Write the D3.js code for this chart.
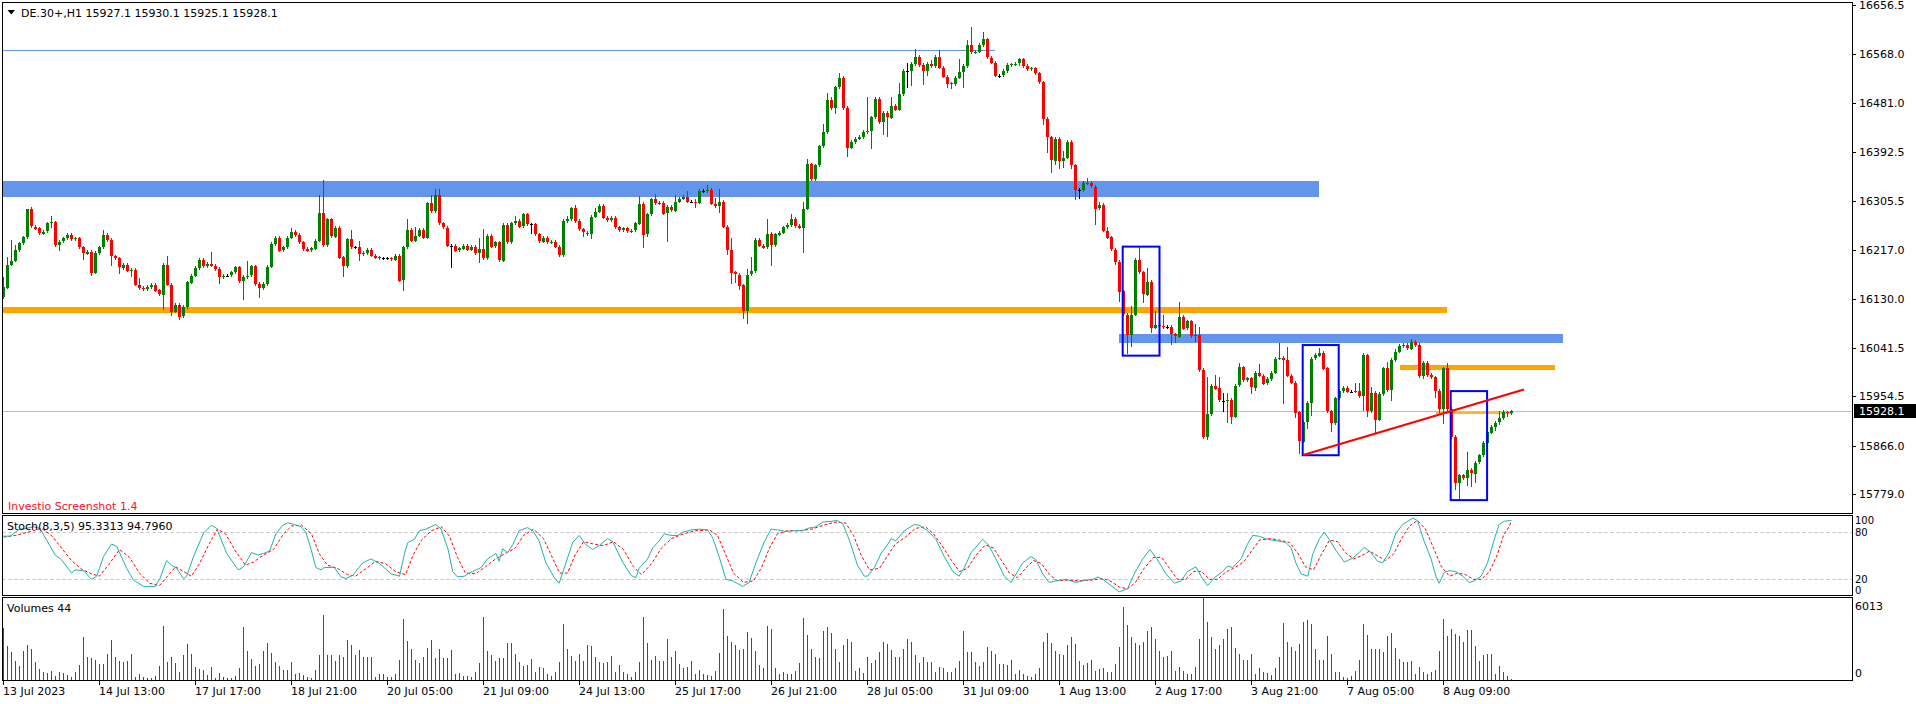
<!DOCTYPE html>
<html>
<head>
<meta charset="utf-8">
<script src="https://cdn.jsdelivr.net/npm/d3@7"></script>
<style>
  body { margin: 0; background: #fff; }
  svg text { font-family: "DejaVu Sans", sans-serif; font-size: 11px; }
  svg text.stick { font-size: 10px; }
</style>
</head>
<body>
<svg id="chart" width="1916" height="704"></svg>
<script>
// DE.30+ H1, 13 Jul - 8 Aug 2023 (MT4 screenshot)

// closes, one per hourly bar; open of a bar = previous close
var firstOpen = 16132;
var closes = [
  16150, 16191, 16198, 16217, 16229, 16240, 16290, 16259, 16256, 16247,
  16250, 16265, 16267, 16226, 16232, 16238, 16244, 16236, 16238, 16222,
  16211, 16214, 16177, 16212, 16222, 16244, 16235, 16206, 16202, 16185,
  16191, 16180, 16182, 16155, 16149, 16147, 16151, 16155, 16145, 16137,
  16191, 16155, 16107, 16119, 16098, 16115, 16159, 16171, 16185, 16199,
  16188, 16192, 16189, 16183, 16169, 16171, 16171, 16177, 16186, 16161,
  16169, 16171, 16188, 16156, 16148, 16156, 16187, 16228, 16239, 16216,
  16222, 16239, 16250, 16244, 16231, 16219, 16216, 16220, 16234, 16284,
  16226, 16272, 16241, 16257, 16204, 16187, 16236, 16222, 16222, 16210,
  16212, 16218, 16207, 16204, 16202, 16202, 16202, 16200, 16207, 16162,
  16222, 16253, 16234, 16243, 16253, 16239, 16301, 16287, 16315, 16265,
  16257, 16225, 16225, 16216, 16220, 16225, 16218, 16223, 16212, 16219,
  16202, 16242, 16223, 16231, 16198, 16262, 16231, 16265, 16269, 16259,
  16281, 16263, 16263, 16245, 16232, 16239, 16231, 16232, 16223, 16208,
  16269, 16273, 16292, 16269, 16254, 16248, 16246, 16277, 16286, 16296,
  16275, 16271, 16275, 16258, 16252, 16256, 16250, 16252, 16265, 16300,
  16245, 16281, 16308, 16300, 16302, 16283, 16294, 16288, 16304, 16309,
  16313, 16304, 16304, 16302, 16323, 16323, 16325, 16300, 16296, 16304,
  16259, 16218, 16177, 16173, 16154, 16108, 16173, 16179, 16235, 16225,
  16222, 16246, 16226, 16245, 16248, 16258, 16262, 16273, 16260, 16257,
  16291, 16371, 16344, 16369, 16403, 16429, 16486, 16472, 16509, 16526,
  16472, 16401, 16411, 16417, 16420, 16429, 16430, 16455, 16488, 16447,
  16463, 16455, 16476, 16469, 16497, 16539, 16539, 16551, 16564, 16549,
  16538, 16551, 16547, 16564, 16544, 16528, 16515, 16516, 16526, 16536,
  16547, 16584, 16572, 16573, 16585, 16595, 16562, 16553, 16530, 16530,
  16538, 16549, 16550, 16551, 16559, 16547, 16541, 16543, 16534, 16518,
  16452, 16419, 16377, 16417, 16377, 16383, 16411, 16369, 16325, 16325,
  16338, 16337, 16331, 16292, 16298, 16252, 16240, 16218, 16196, 16143,
  16101, 16066, 16101, 16199, 16177, 16137, 16160, 16078, 16083, 16081,
  16079, 16079, 16066, 16062, 16097, 16076, 16089, 16062, 16064, 16002,
  15882, 15923, 15974, 15969, 15947, 15947, 15949, 15918, 15974, 16007,
  15984, 15987, 15970, 15997, 15992, 15978, 15986, 15997, 16022, 16024,
  16020, 15992, 15979, 15926, 15874, 15909, 15943, 16022, 16028, 16033,
  16005, 15928, 15907, 15951, 15964, 15970, 15963, 15963, 15964, 15955,
  16028, 15928, 15961, 15913, 15959, 16005, 15966, 16020, 16035, 16045,
  16047, 16041, 16053, 16047, 15991, 16015, 15993, 15989, 15964, 15932,
  16005, 15932, 15882, 15799, 15813, 15808, 15823, 15817, 15836, 15849,
  15871, 15890, 15900, 15907, 15915, 15926, 15924, 15928.1
];

// upper shadow above the body, in points
var wickUp = [
  18, 14, 37, 9, 3, 3, 1, 5, 3, 3,
  3, 3, 11, 3, 3, 3, 3, 3, 3, 3,
  3, 3, 3, 3, 3, 9, 3, 3, 3, 3,
  3, 3, 3, 3, 12, 3, 3, 3, 3, 3,
  3, 15, 3, 3, 3, 3, 3, 3, 3, 3,
  3, 3, 22, 3, 3, 3, 3, 3, 3, 3,
  3, 27, 3, 3, 3, 3, 3, 3, 3, 3,
  3, 3, 7, 3, 3, 3, 3, 3, 3, 31,
  59, 3, 3, 3, 3, 3, 3, 17, 3, 11,
  3, 3, 3, 3, 3, 3, 3, 3, 3, 3,
  3, 20, 3, 16, 3, 3, 3, 14, 11, 11,
  3, 3, 3, 3, 3, 3, 3, 3, 3, 20,
  35, 3, 3, 3, 3, 3, 3, 3, 9, 3,
  3, 3, 3, 3, 3, 3, 3, 3, 3, 3,
  3, 5, 3, 6, 3, 3, 3, 3, 6, 3,
  3, 3, 3, 3, 3, 3, 3, 3, 3, 14,
  3, 3, 3, 9, 3, 3, 3, 3, 11, 3,
  3, 10, 3, 4, 3, 3, 9, 3, 11, 23,
  3, 3, 21, 3, 3, 3, 10, 25, 3, 3,
  3, 27, 3, 3, 3, 3, 3, 8, 3, 3,
  13, 9, 3, 3, 3, 15, 12, 6, 3, 8,
  3, 3, 3, 3, 3, 3, 61, 3, 3, 3,
  3, 3, 16, 3, 19, 3, 14, 3, 13, 3,
  3, 3, 6, 3, 12, 3, 3, 2, 3, 23,
  3, 9, 33, 3, 3, 13, 3, 3, 3, 3,
  3, 3, 3, 3, 3, 3, 3, 3, 3, 3,
  3, 3, 3, 3, 3, 11, 3, 3, 3, 3,
  3, 8, 3, 3, 6, 3, 6, 3, 3, 3,
  3, 3, 16, 3, 23, 3, 25, 3, 25, 3,
  20, 3, 3, 3, 27, 3, 3, 3, 20, 15,
  3, 66, 3, 19, 20, 14, 12, 3, 3, 8,
  3, 3, 3, 3, 15, 3, 3, 3, 3, 27,
  3, 23, 3, 3, 3, 3, 3, 3, 5, 8,
  3, 3, 3, 3, 3, 3, 3, 3, 14, 14,
  4, 3, 11, 3, 3, 3, 11, 3, 4, 3,
  3, 3, 5, 3, 3, 3, 3, 3, 3, 3,
  3, 10, 3, 3, 3, 3, 31, 3, 3, 3,
  3, 3, 3, 3, 13, 4, 3, 2
];

// lower shadow below the body, in points
var wickDown = [
  3, 3, 3, 3, 3, 3, 3, 3, 3, 3,
  3, 3, 9, 3, 10, 3, 3, 3, 3, 3,
  11, 3, 6, 3, 3, 3, 3, 18, 3, 10,
  3, 3, 11, 3, 3, 3, 3, 3, 3, 3,
  27, 3, 9, 3, 6, 3, 3, 3, 3, 3,
  3, 3, 3, 3, 12, 3, 3, 3, 3, 3,
  34, 3, 3, 3, 17, 3, 3, 3, 3, 3,
  3, 3, 3, 3, 3, 3, 3, 3, 3, 3,
  3, 3, 3, 3, 3, 18, 3, 3, 3, 13,
  3, 3, 3, 3, 3, 3, 3, 3, 3, 3,
  19, 3, 3, 3, 3, 3, 3, 3, 3, 3,
  3, 3, 40, 3, 3, 3, 3, 3, 3, 19,
  3, 3, 3, 3, 3, 3, 3, 3, 3, 3,
  3, 3, 17, 3, 3, 3, 3, 3, 3, 3,
  3, 3, 3, 3, 3, 8, 3, 9, 3, 3,
  3, 3, 3, 3, 3, 3, 3, 3, 3, 3,
  24, 5, 3, 3, 3, 3, 52, 3, 3, 3,
  3, 3, 3, 10, 3, 3, 3, 3, 3, 13,
  3, 10, 21, 15, 9, 15, 23, 3, 3, 3,
  3, 3, 37, 3, 3, 3, 3, 3, 3, 3,
  45, 3, 3, 3, 3, 3, 3, 3, 11, 3,
  3, 17, 3, 3, 3, 3, 3, 32, 3, 3,
  23, 36, 3, 3, 3, 3, 32, 28, 3, 3,
  25, 8, 3, 3, 3, 3, 8, 10, 5, 3,
  28, 3, 3, 3, 3, 3, 3, 3, 3, 4,
  3, 3, 3, 3, 3, 3, 3, 3, 3, 3,
  10, 27, 22, 8, 14, 12, 3, 6, 19, 17,
  3, 3, 3, 30, 3, 3, 3, 3, 5, 19,
  3, 36, 23, 3, 3, 15, 3, 10, 3, 3,
  3, 3, 19, 11, 3, 3, 3, 3, 9, 3,
  3, 5, 3, 3, 3, 21, 40, 13, 3, 3,
  3, 3, 11, 6, 3, 3, 3, 3, 3, 3,
  79, 3, 3, 11, 23, 3, 12, 23, 3, 3,
  3, 4, 17, 3, 3, 3, 3, 3, 3, 3,
  27, 10, 3, 26, 3, 3, 3, 19, 3, 3,
  3, 3, 3, 3, 3, 6, 3, 3, 13, 8,
  27, 3, 3, 13, 28, 3, 14, 25, 17, 3,
  3, 3, 3, 8, 3, 3, 6, 2
];

// tick volumes
var volumes = [
  3785, 2465, 2040, 1420, 1045, 2090, 2540, 2240, 1345, 800,
  620, 500, 670, 300, 620, 500, 350, 250, 620, 1095,
  3160, 1670, 1620, 1495, 1170, 1170, 1920, 2910, 1670, 1420,
  1345, 1420, 1920, 250, 420, 250, 175, 175, 300, 1045,
  3985, 1345, 1670, 1220, 620, 1840, 2615, 1920, 920, 800,
  720, 350, 920, 175, 500, 250, 175, 125, 300, 845,
  3860, 2090, 1545, 995, 1150, 2100, 2680, 1970, 1340, 1040,
  760, 710, 1290, 405, 530, 330, 200, 150, 710, 1800,
  4760, 1850, 1800, 1390, 1800, 1720, 2935, 2555, 1850, 2175,
  1720, 1670, 1670, 250, 455, 455, 200, 200, 455, 1470,
  4450, 2860, 2300, 1470, 1215, 1720, 2350, 2935, 1595, 2300,
  1595, 1595, 2175, 405, 530, 280, 313, 220, 563, 1250,
  4600, 2130, 1815, 1410, 1630, 1630, 2720, 2720, 1880, 1315,
  1030, 1095, 1565, 563, 940, 845, 470, 313, 563, 1345,
  4070, 2285, 1785, 1410, 1880, 1410, 2570, 2500, 1660, 1345,
  1250, 1315, 1785, 563, 1095, 563, 470, 250, 563, 1345,
  4600, 2720, 1500, 1785, 1410, 1410, 2975, 1720, 2100, 1160,
  845, 940, 1410, 405, 720, 470, 375, 313, 625, 1970,
  5230, 3225, 2755, 2600, 2190, 2285, 3540, 3070, 2130, 1095,
  845, 3975, 3755, 845, 405, 563, 405, 470, 625, 1250,
  4540, 3285, 2285, 1720, 1630, 3600, 3850, 3445, 2255, 1315,
  2600, 2975, 2815, 625, 845, 530, 1660, 1250, 1470, 2035,
  2815, 2660, 2190, 1720, 1660, 2285, 3035, 2755, 1815, 1250,
  1720, 1345, 1345, 563, 940, 845, 563, 563, 875, 1410,
  3600, 2035, 2035, 1345, 1030, 1345, 2440, 2100, 1880, 1190,
  1190, 1095, 1470, 470, 720, 470, 313, 250, 405, 875,
  2815, 3445, 2720, 2130, 1940, 1815, 2600, 3130, 2660, 1410,
  1095, 1250, 1470, 625, 780, 845, 563, 563, 1190, 2440,
  5320, 4000, 3130, 2720, 2600, 2755, 3600, 3850, 3035, 2100,
  1720, 1785, 2100, 625, 940, 625, 405, 405, 940, 2975,
  6013, 4225, 3130, 2255, 2570, 2975, 3755, 3915, 2350, 1940,
  1500, 1500, 1940, 470, 875, 563, 530, 375, 845, 1660,
  4160, 2755, 2410, 2130, 2660, 4225, 4380, 4070, 2285, 1470,
  1470, 3225, 1880, 563, 563, 250, 157, 313, 625, 1500,
  4070, 3285, 2285, 2285, 2285, 2035, 3190, 3445, 2350, 1565,
  1345, 1345, 1410, 405, 940, 563, 470, 563, 720, 2130,
  4475, 3190, 3755, 3380, 3190, 2755, 3660, 3660, 2505, 1410,
  1815, 1880, 1940, 470, 1000, 563, 313, 44
];

// Stoch(8,3,5): main line (%K) at bar positions
var stochKBars = [
  0, 1.7, 3.7, 7.5, 9.1, 10.8, 12.9, 14.5, 17, 17.9, 20, 22, 23.3, 25, 27, 28.3, 30.8, 32.5, 35, 37.9,
  39.1, 40.8, 42, 43.3, 45, 45.8, 47.5, 50, 52, 53.3, 55.8, 58.7, 60, 62, 63.7, 65, 66.5, 68.1, 69.8, 71.1,
  72.7, 74.4, 75.6, 76.9, 78.1, 79.4, 80.2, 82.7, 84.4, 85.6, 87.3, 89.8, 91.9, 94, 95.6, 96.9, 99, 100.3, 101.1, 102.7,
  104, 105.6, 108.1, 109.4, 111.1, 112.3, 113.5, 115.2, 116.1, 117.3, 119.4, 121, 123.1, 123.9, 124.8, 126, 127.3, 128.9, 131, 132.3,
  133.9, 135.6, 137.7, 138.9, 140.6, 142.3, 143.9, 145.6, 147.3, 148.9, 151, 152.3, 154.8, 156.9, 158.1, 158.9, 161, 162.3, 163.9, 165.2,
  166.9, 168.6, 169.8, 171.9, 173.9, 176, 177.3, 178.9, 180.6, 182.3, 184.8, 186.4, 188.1, 190.2, 191.9, 193.5, 195.6, 197.7, 199.8, 201,
  203.1, 204.8, 206.9, 208.5, 209.8, 211.4, 213.5, 215.2, 216, 217.7, 219.4, 221.1, 221.9, 223.1, 225.2, 227.7, 228.9, 231, 233.1, 235.2,
  237.3, 238.9, 240.2, 241.9, 244.8, 246.4, 248.1, 250.2, 251.9, 253.5, 254.8, 256.9, 258.1, 259.8, 261.4, 263.1, 265.6, 268.1, 270.6, 272.3,
  273.6, 274.8, 276.9, 278.9, 281, 282.7, 284.8, 286.6, 288.5, 290.6, 292.7, 294.4, 296, 298.1, 299.4, 301, 302.7, 304.8, 306, 307.3,
  309.4, 311, 312.3, 313.9, 316, 318.5, 320.6, 321.9, 323.1, 324.4, 326.1, 327.3, 328.9, 330.2, 331.4, 333.1, 335.2, 337.3, 338.9, 340.2,
  341.9, 343.5, 344.8, 346.4, 348.1, 349.8, 351, 352.3, 353.5, 355.2, 356.9, 358.1, 358.9, 360.2, 361.4, 363.1, 364.8, 366.4, 367.7, 369.4,
  371, 372.7, 373.9, 375.2, 376.6, 377
];
var stochK = [
  75, 75, 83, 87, 85, 70, 51, 45, 28, 32, 31, 20, 24, 49, 65, 62, 34, 19, 11, 11,
  21, 44, 38, 34, 21, 24, 49, 79, 89, 85, 53, 32, 36, 54, 51, 53, 56, 78, 89, 92,
  90, 87, 80, 58, 35, 32, 35, 35, 23, 21, 25, 41, 46, 40, 33, 27, 24, 54, 67, 71,
  82, 84, 90, 84, 59, 30, 23, 24, 27, 30, 35, 46, 53, 43, 59, 54, 64, 82, 86, 82,
  69, 41, 22, 15, 41, 67, 76, 64, 58, 63, 72, 68, 42, 25, 22, 34, 46, 60, 69, 78,
  76, 76, 80, 83, 84, 83, 73, 49, 20, 18, 11, 16, 41, 68, 84, 83, 81, 82, 82, 85,
  87, 93, 94, 95, 91, 71, 38, 24, 24, 35, 53, 65, 72, 69, 82, 90, 89, 82, 71, 49,
  30, 24, 35, 54, 71, 63, 46, 24, 16, 30, 41, 49, 45, 27, 16, 18, 20, 16, 19, 20,
  23, 20, 12, 4, 8, 27, 46, 58, 45, 27, 15, 18, 30, 36, 24, 12, 22, 30, 37, 35,
  46, 65, 76, 75, 71, 69, 67, 60, 41, 27, 24, 52, 71, 80, 71, 57, 42, 47, 54, 61,
  54, 43, 41, 54, 79, 90, 94, 98, 95, 68, 46, 24, 15, 29, 31, 30, 24, 16, 18, 24,
  41, 71, 90, 94, 95, 95.3
];
// signal line (%D), dashed red
var stochDBars = [
  0, 3, 6, 9.5, 12, 14.5, 17, 19.5, 22, 24, 26.5, 29, 31.5, 34, 36.5, 39, 41, 43, 45, 47,
  49, 51.5, 53.5, 55.5, 58, 60.5, 62.5, 65, 67.5, 70, 72, 74.5, 77, 79, 81, 83.5, 86, 88, 90.5, 93,
  95.5, 98, 100.5, 102.5, 104.5, 107, 109.5, 111.5, 113.5, 115.5, 118, 120.5, 123, 125.5, 128, 130, 132.5, 135, 137, 139,
  141, 143, 145, 147.5, 150, 152.5, 155, 157.5, 159.5, 162, 164.5, 167, 170, 173, 176.5, 178.5, 180.5, 182.5, 185, 187.5,
  189.5, 191.5, 193.5, 196, 199, 202, 205, 208, 210.5, 212.5, 214.5, 216.5, 219, 221, 223, 225.5, 228, 230.5, 232.5, 234.5,
  237, 239, 241, 243, 245.5, 247.5, 249.5, 251.5, 253.5, 255.5, 257.5, 259.5, 261.5, 263.5, 266, 269, 272, 275, 277, 279,
  281, 283, 285, 287.5, 289.5, 291.5, 293.5, 295.5, 297.5, 299.5, 301.5, 303.5, 305.5, 307.5, 310, 312, 314, 316.5, 319, 321.5,
  323.5, 325.5, 327.5, 329.5, 331.5, 333.5, 335.5, 337.5, 339.5, 341.5, 343.5, 345.5, 347.5, 349.5, 351.5, 353.5, 355.5, 357.5, 359.5, 361.5,
  363.5, 365.5, 367.5, 369.5, 371.5, 373.5, 375, 376.5, 377
];
var stochD = [
  74, 76, 80, 85, 76, 60, 44, 33, 27, 24, 40, 58, 48, 28, 15, 12, 24, 36, 30, 24,
  40, 66, 84, 78, 56, 38, 42, 51, 58, 78, 88, 89, 78, 52, 38, 34, 26, 24, 33, 43,
  40, 30, 26, 52, 70, 82, 87, 75, 48, 28, 27, 36, 46, 53, 60, 76, 84, 72, 50, 28,
  28, 52, 68, 65, 63, 68, 58, 36, 26, 40, 60, 72, 78, 82, 83, 76, 52, 28, 16, 18,
  35, 60, 78, 82, 82, 84, 89, 93, 92, 76, 50, 32, 34, 50, 65, 74, 85, 87, 78, 64,
  44, 30, 34, 50, 64, 60, 44, 28, 22, 34, 44, 40, 26, 18, 19, 18, 19, 21, 17, 10,
  8, 16, 33, 48, 48, 34, 20, 20, 30, 30, 20, 20, 29, 34, 42, 56, 70, 72, 70, 67,
  54, 36, 32, 52, 70, 68, 54, 46, 50, 56, 50, 44, 52, 72, 88, 95, 84, 60, 36, 24,
  28, 26, 20, 20, 30, 52, 76, 88, 94.8
];

var priceTicks = [16656.5, 16568.0, 16481.0, 16392.5, 16305.5, 16217.0, 16130.0, 16041.5, 15954.5, 15866.0, 15779.0];
var timeLabels = ["13 Jul 2023", "14 Jul 13:00", "17 Jul 17:00", "18 Jul 21:00", "20 Jul 05:00", "21 Jul 09:00",
  "24 Jul 13:00", "25 Jul 17:00", "26 Jul 21:00", "28 Jul 05:00", "31 Jul 09:00", "1 Aug 13:00",
  "2 Aug 17:00", "3 Aug 21:00", "7 Aug 05:00", "8 Aug 09:00"];
var timeLabelBars = [0, 24, 48, 72, 96, 120, 144, 168, 192, 216, 240, 264, 288, 312, 336, 360];
var stochLevels = [20, 80];
var stochTicks = [100, 80, 20, 0];
var volumeTicks = [6013, 0];
var bidPrice = 15928.1;
var headerText = "DE.30+,H1  15927.1 15930.1 15925.1 15928.1";
var stochText = "Stoch(8,3,5) 95.3313 94.7960";
var volumeText = "Volumes 44";

// drawn objects: horizontal bands [fromBar, toBar, priceLow, priceHigh, colour]
var bands = [
  [-1, 247.9, 16574.9, 16576.7, "#6495ED"],
  [-1, 328.9, 16313, 16340, "#6495ED"],
  [-1, 360.9, 16104.1, 16114.9, "#FFA500"],
  [278.8, 389.8, 16050.9, 16066.5, "#6495ED"],
  [349, 387.9, 16002.4, 16011.6, "#FFA500"],
  [358, 376.9, 15923.9, 15927.3, "#FFB733"]
];
// rectangles [fromBar, toBar, priceLow, priceHigh]
var boxes = [
  [279.8, 289.0, 16027.7, 16223.2],
  [324.8, 333.8, 15849.1, 16046.7],
  [361.8, 370.9, 15768.6, 15964.1]
];
// trend line [bar, price] pairs
var trend = [[324.9, 15849.5], [380.1, 15966.9]];

var left = 2.5, right = 1852.5;
var mainTop = 2.5, mainBottom = 513.5;
var stochTop = 515.5, stochBottom = 595.5;
var volTop = 597.5, volBottom = 680.5;

var green = "#008000", red = "#FF0000";

var svg = d3.select("#chart");

var x = d3.scaleLinear().domain([0, 377]).range([3.5, 1511.5]);
var y = d3.scaleLinear().domain([15745.5, 16661.9]).range([513, 2]);
var ys = d3.scaleLinear().domain([0, 100]).range([595, 516.6]);
var yv = d3.scaleLinear().domain([0, 6013]).range([680, 598]);

var bars = closes.map(function(c, i) {
  var o = i === 0 ? firstOpen : closes[i - 1];
  return {
    i: i, o: o, c: c,
    h: Math.max(o, c) + wickUp[i],
    l: Math.min(o, c) - wickDown[i],
    v: volumes[i]
  };
});

function barColor(d) {
  if (Math.abs(d.c - d.o) < 0.5) return "#000";
  return d.c > d.o ? green : red;
}

var defs = svg.append("defs");
function clip(id, y0, y1) {
  defs.append("clipPath").attr("id", id)
    .append("rect").attr("x", left).attr("y", y0).attr("width", right - left).attr("height", y1 - y0);
}
clip("clipMain", mainTop, mainBottom);
clip("clipStoch", stochTop, stochBottom);
clip("clipVol", volTop, volBottom);

// ---- main window
var main = svg.append("g").attr("clip-path", "url(#clipMain)");

main.append("line")
  .attr("x1", left).attr("x2", right)
  .attr("y1", Math.round(y(bidPrice)) + 0.5).attr("y2", Math.round(y(bidPrice)) + 0.5)
  .attr("stroke", "#C0C0C0");

main.selectAll("rect.band").data(bands).enter().append("rect")
  .attr("class", "band")
  .attr("x", function(d) { return d[0] < 0 ? left : x(d[0]); })
  .attr("width", function(d) { return x(d[1]) - (d[0] < 0 ? left : x(d[0])); })
  .attr("y", function(d) { return y(d[3]); })
  .attr("height", function(d) { return y(d[2]) - y(d[3]); })
  .attr("fill", function(d) { return d[4]; })
  .attr("shape-rendering", "crispEdges");

var candle = main.selectAll("g.candle").data(bars).enter().append("g")
  .attr("class", "candle")
  .attr("shape-rendering", "crispEdges");

candle.append("line")
  .attr("x1", function(d) { return Math.floor(x(d.i)) + 0.5; })
  .attr("x2", function(d) { return Math.floor(x(d.i)) + 0.5; })
  .attr("y1", function(d) { return y(d.h); })
  .attr("y2", function(d) { return y(d.l); })
  .attr("stroke", barColor);

candle.append("rect")
  .attr("x", function(d) { return Math.floor(x(d.i)) - 1; })
  .attr("width", 3)
  .attr("y", function(d) { return Math.round(y(Math.max(d.o, d.c))); })
  .attr("height", function(d) { return Math.max(1, Math.round(y(Math.min(d.o, d.c)) - y(Math.max(d.o, d.c)))); })
  .attr("fill", barColor);

main.selectAll("rect.box").data(boxes).enter().append("rect")
  .attr("class", "box")
  .attr("x", function(d) { return x(d[0]); })
  .attr("width", function(d) { return x(d[1]) - x(d[0]); })
  .attr("y", function(d) { return y(d[3]); })
  .attr("height", function(d) { return y(d[2]) - y(d[3]); })
  .attr("fill", "none")
  .attr("stroke", "#0000FF")
  .attr("stroke-width", 2);

main.append("path")
  .datum(trend)
  .attr("d", d3.line().x(function(d) { return x(d[0]); }).y(function(d) { return y(d[1]); }))
  .attr("stroke", red)
  .attr("stroke-width", 2)
  .attr("fill", "none");

// header
svg.append("path").attr("d", "M7.5,10 L15,10 L11.25,14.5 Z").attr("fill", "#000");
svg.append("text").attr("x", 21).attr("y", 17).attr("fill", "#000").text(headerText);
svg.append("text").attr("x", 8).attr("y", 510).attr("fill", "#FF0D2D").text("Investio Screenshot 1.4");

// ---- stochastic window
var stoch = svg.append("g").attr("clip-path", "url(#clipStoch)");
stoch.selectAll("line.level").data(stochLevels).enter().append("line")
  .attr("x1", left).attr("x2", right)
  .attr("y1", function(d) { return Math.round(ys(d)) + 0.5; })
  .attr("y2", function(d) { return Math.round(ys(d)) + 0.5; })
  .attr("stroke", "#C0C0C0")
  .attr("stroke-dasharray", "3,3");

var sline = d3.line()
  .x(function(d) { return x(d[0]); })
  .y(function(d) { return ys(d[1]); });

stoch.append("path").datum(d3.zip(stochDBars, stochD)).attr("d", sline)
  .attr("fill", "none").attr("stroke", red).attr("stroke-width", 1).attr("stroke-dasharray", "3,2");
stoch.append("path").datum(d3.zip(stochKBars, stochK)).attr("d", sline)
  .attr("fill", "none").attr("stroke", "#20B2AA").attr("stroke-width", 1);

svg.append("text").attr("x", 7).attr("y", 530).attr("fill", "#000").text(stochText);

// ---- volumes
var vol = svg.append("g").attr("clip-path", "url(#clipVol)").attr("shape-rendering", "crispEdges");
vol.selectAll("line").data(bars).enter().append("line")
  .attr("x1", function(d) { return Math.floor(x(d.i)) + 0.5; })
  .attr("x2", function(d) { return Math.floor(x(d.i)) + 0.5; })
  .attr("y1", yv(0))
  .attr("y2", function(d) { return yv(d.v); })
  .attr("stroke", function(d, i) { return i === 0 || d.v > volumes[i - 1] ? green : red; });

svg.append("text").attr("x", 7).attr("y", 612).attr("fill", "#000").text(volumeText);

// ---- frames
[[mainTop, mainBottom], [stochTop, stochBottom], [volTop, volBottom]].forEach(function(p) {
  svg.append("rect")
    .attr("x", left).attr("y", p[0])
    .attr("width", right - left).attr("height", p[1] - p[0])
    .attr("fill", "none").attr("stroke", "#000")
    .attr("shape-rendering", "crispEdges");
});

// ---- price axis
var pt = svg.append("g").attr("shape-rendering", "crispEdges");
pt.selectAll("line").data(priceTicks).enter().append("line")
  .attr("x1", right).attr("x2", right + 3)
  .attr("y1", function(d) { return Math.round(y(d)) + 0.5; })
  .attr("y2", function(d) { return Math.round(y(d)) + 0.5; })
  .attr("stroke", "#000");
svg.selectAll("text.ptick").data(priceTicks).enter().append("text")
  .attr("class", "ptick")
  .attr("x", 1859)
  .attr("y", function(d) { return y(d) + 4; })
  .attr("fill", "#000")
  .text(function(d) { return d.toFixed(1); });

svg.append("rect")
  .attr("x", 1854).attr("y", Math.round(y(bidPrice)) - 7)
  .attr("width", 62).attr("height", 14)
  .attr("fill", "#000");
svg.append("text")
  .attr("x", 1859).attr("y", y(bidPrice) + 4)
  .attr("fill", "#fff")
  .text(bidPrice.toFixed(1));

// sub-window scales: labels kept inside their window; 100 and 0 pushed to the
// window edges so they sit just clear of the 80 / 20 labels
function clampLabel(v, top, bottom, pad) { return Math.max(top + pad, Math.min(bottom - pad, v)); }
svg.selectAll("text.stick").data(stochTicks).enter().append("text")
  .attr("class", "stick")
  .attr("x", 1855)
  .attr("y", function(d) { return clampLabel(ys(d), stochTop, stochBottom, 5) + 3.5; })
  .attr("fill", "#000")
  .text(function(d) { return d; });
svg.selectAll("text.vtick").data(volumeTicks).enter().append("text")
  .attr("class", "vtick")
  .attr("x", 1855)
  .attr("y", function(d) { return clampLabel(yv(d), volTop, volBottom, 8) + 4; })
  .attr("fill", "#000")
  .text(function(d) { return d; });

// ---- time axis
var tt = svg.append("g").attr("shape-rendering", "crispEdges");
tt.selectAll("line").data(timeLabelBars).enter().append("line")
  .attr("x1", function(d) { return Math.floor(x(d)) + 0.5; })
  .attr("x2", function(d) { return Math.floor(x(d)) + 0.5; })
  .attr("y1", volBottom).attr("y2", volBottom + 4)
  .attr("stroke", "#000");
svg.selectAll("text.ttick").data(timeLabelBars).enter().append("text")
  .attr("class", "ttick")
  .attr("x", function(d) { return Math.floor(x(d)); })
  .attr("y", 695)
  .attr("fill", "#000")
  .text(function(d, i) { return timeLabels[i]; });
</script>
</body>
</html>
